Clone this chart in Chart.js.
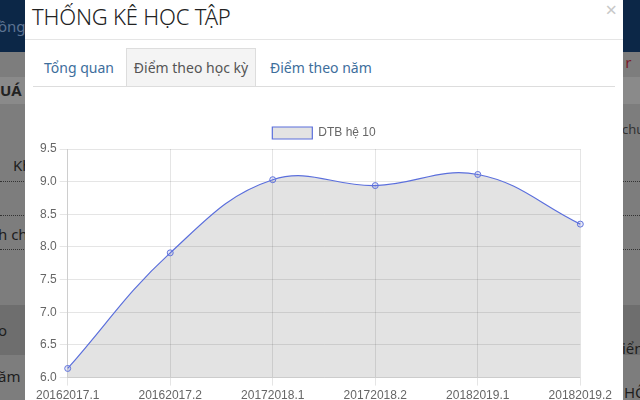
<!DOCTYPE html>
<html>
<head>
<meta charset="utf-8">
<script src="https://cdn.jsdelivr.net/npm/chart.js@4"></script>
<style>
  html, body { margin: 0; padding: 0; }
  body { width: 640px; height: 400px; overflow: hidden; position: relative; background: #7d7d7d; font-family: "Noto Sans", sans-serif; }
  .bg-top { position: absolute; left: 0; top: 0; width: 640px; height: 52px; background: #0c2747; }
  .bg-band { position: absolute; left: 0; width: 640px; }
  .bg-txt { position: absolute; font-size: 15px; color: #1e1e1e; }
  .dot { position: absolute; left: 0; width: 640px; border-top: 1px dotted #333; }
  .modal { position: absolute; left: 25px; top: -10px; width: 598px; height: 420px; background: #fff; }
  .title { position: absolute; left: 7px; top: 11px; font-size: 22px; font-weight: 300; color: #222; letter-spacing: -0.2px; }
  .close { position: absolute; right: 6px; top: 10px; font-size: 20px; color: #c8c8c8; line-height: 1; }
  .hr { position: absolute; left: 0; top: 49px; width: 598px; border-top: 1px solid #e5e5e5; }
  .tabs { position: absolute; left: 8px; top: 96px; width: 582px; border-top: 1px solid #ddd; }
  .tab { position: absolute; top: 68px; font-size: 14px; color: #3d6e9c; }
  .tab.active { left: 101px; top: 58px; width: 130px; height: 38px; background: #f4f4f4; border: 1px solid #ddd; border-bottom: none; color: #555; box-sizing: border-box; text-align: center; line-height: 38px; }
  .chart-box { position: absolute; left: 8px; top: 127px; width: 582px; height: 289px; }
</style>
</head>
<body>
<div class="bg-top"></div>
<div class="bg-txt" style="left:-2px;top:16px;color:#5d7392">ồng</div>
<div class="bg-band" style="top:77px;height:27px;background:#8a8a8a"></div>
<div class="bg-txt" style="left:0;top:80px;font-weight:bold;color:#222">UÁ</div>
<div class="bg-txt" style="left:612px;top:52px;color:#7a1a2a">g r</div>
<div class="bg-txt" style="left:622px;top:120px;color:#333;font-size:13px">chu</div>
<div class="bg-txt" style="left:13px;top:155px">Kh</div>
<div class="dot" style="top:181px"></div>
<div class="dot" style="top:215px"></div>
<div class="bg-txt" style="left:-2px;top:224px">h ch</div>
<div class="dot" style="top:249px"></div>
<div class="bg-band" style="top:305px;height:50px;background:#6e6e6e"></div>
<div class="bg-txt" style="left:-2px;top:320px">o</div>
<div class="bg-txt" style="left:622px;top:338px">iển</div>
<div class="bg-txt" style="left:-2px;top:366px">ăm h</div>
<div class="bg-txt" style="left:624px;top:382px">HÔ</div>

<div class="modal">
  <div class="title">THỐNG KÊ HỌC TẬP</div>
  <div class="close">×</div>
  <div class="hr"></div>
  <div class="tab" style="left:19px">Tổng quan</div>
  <div class="tab active">Điểm theo học kỳ</div>
  <div class="tab" style="left:245px">Điểm theo năm</div>
  <div class="tabs"></div>
  <div class="chart-box"><canvas id="grafico"></canvas></div>
</div>

<script>
// dữ liệu lấy từ hình
const hocKy = ["20162017.1", "20162017.2", "20172018.1", "20172018.2", "20182019.1", "20182019.2"];
const diemTB = [6.14, 7.91, 9.03, 8.94, 9.11, 8.35];
const tenSeries = "DTB hệ 10";
const yMin = 6.0;
const yMax = 9.5;
const yStep = 0.5;

Chart.defaults.font.family = "'Liberation Sans', Arial, sans-serif";
Chart.defaults.font.size = 12;
Chart.defaults.color = "#666";

const ctx = document.getElementById("grafico").getContext("2d");
new Chart(ctx, {
  type: "line",
  data: {
    labels: hocKy,
    datasets: [
      {
        label: tenSeries,
        data: diemTB,
        fill: true,
        tension: 0.4,
        backgroundColor: "rgba(0,0,0,0.11)",
        borderColor: "#5b6fdc",
        borderWidth: 1.2,
        pointRadius: 3,
        pointBorderWidth: 1,
        pointBorderColor: "#6275dc",
        pointBackgroundColor: "rgba(98,117,220,0.15)",
      },
    ],
  },
  options: {
    responsive: true,
    maintainAspectRatio: false,
    animation: false,
    layout: { padding: 0 },
    plugins: {
      legend: {
        labels: { boxWidth: 40, boxHeight: 12, padding: 10 },
      },
      tooltip: { enabled: false },
    },
    scales: {
      x: {
        grid: { color: "rgba(0,0,0,0.1)" },
        ticks: { maxRotation: 0, autoSkip: false },
      },
      y: {
        min: yMin,
        max: yMax,
        grid: { color: "rgba(0,0,0,0.1)" },
        ticks: {
          stepSize: yStep,
          callback: (v) => Number(v).toFixed(1),
        },
      },
    },
  },
});
</script>
</body>
</html>
